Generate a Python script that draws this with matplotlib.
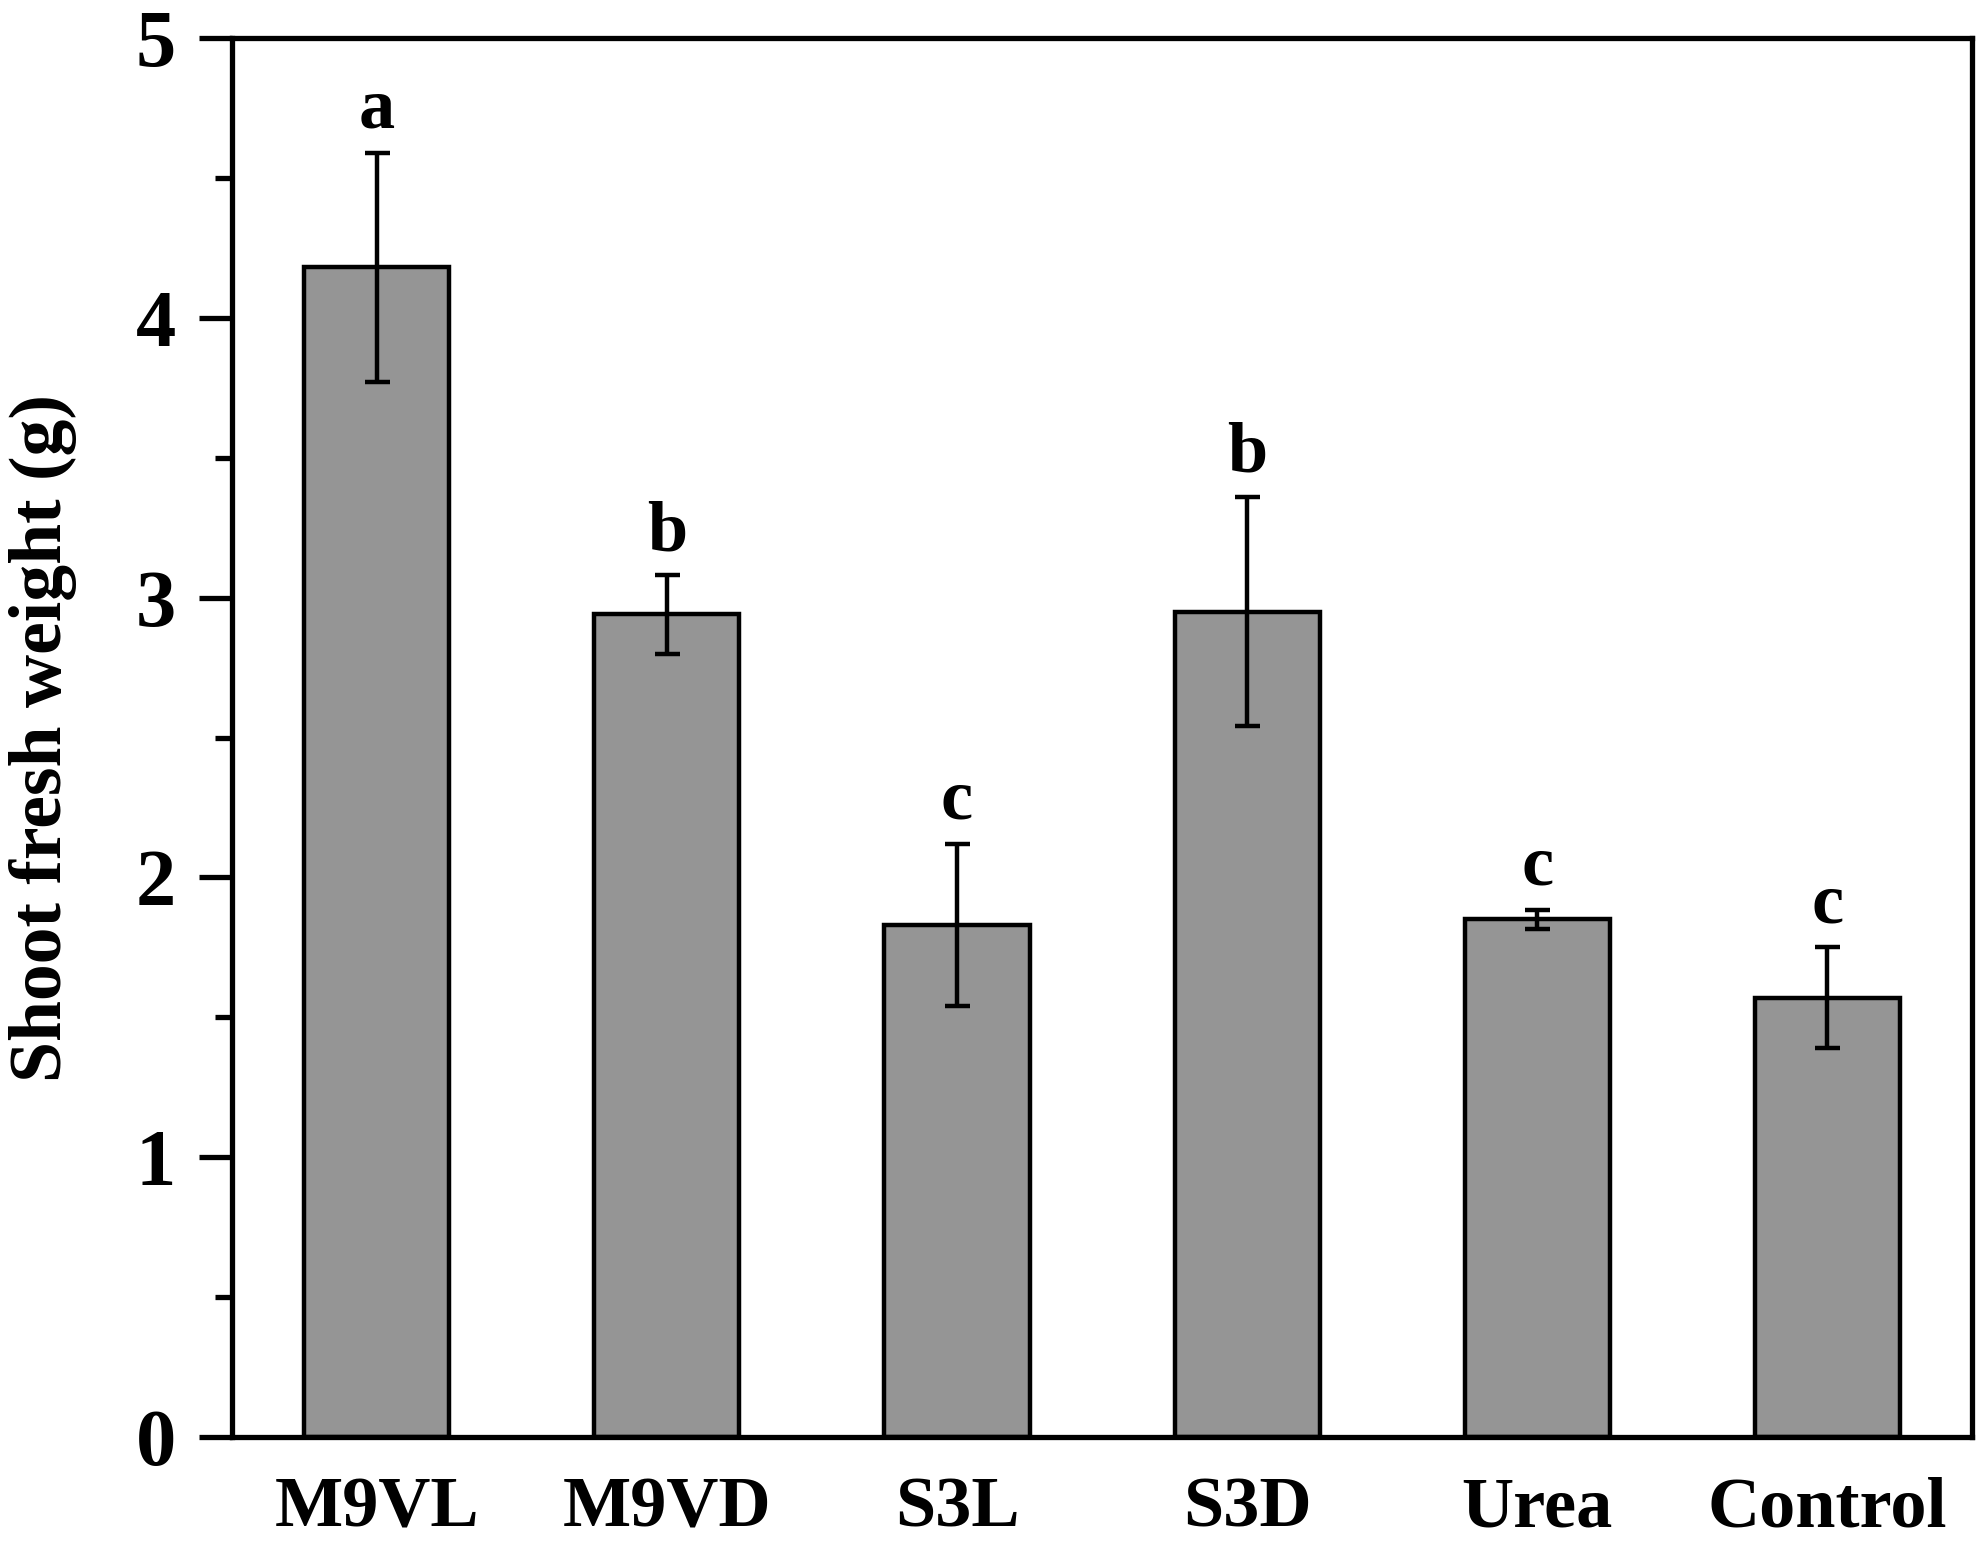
import matplotlib
matplotlib.use("Agg")
import matplotlib.pyplot as plt
from matplotlib.ticker import MultipleLocator

categories = ["M9VL", "M9VD", "S3L", "S3D", "Urea", "Control"]
means = [4.18, 2.94, 1.83, 2.95, 1.85, 1.57]
errors = [0.41, 0.14, 0.29, 0.41, 0.035, 0.18]
letters = ["a", "b", "c", "b", "c", "c"]

plt.rcParams['font.family'] = ['Liberation Serif', 'DejaVu Serif']
plt.rcParams['font.weight'] = 'bold'

fig = plt.figure(figsize=(19.85, 15.42), dpi=100)
ax = fig.add_axes([0.1167, 0.068, 0.877, 0.9074])

x = list(range(len(categories)))
ax.bar(x, means, width=0.5, color='#959595', edgecolor='black', linewidth=3.2, zorder=2)
ax.errorbar(x, means, yerr=errors, fmt='none', ecolor='black', elinewidth=3.2,
            capsize=9, capthick=3.2, zorder=3)
for xi, m, e, l in zip(x, means, errors, letters):
    ax.text(xi, m + e + 0.09, l, ha='center', va='baseline', fontsize=52,
            fontweight='bold')

ax.set_xlim(-0.5, 5.5)
ax.set_ylim(0, 5)
ax.set_xticks(x)
ax.set_xticklabels(categories)
ax.yaxis.set_major_locator(MultipleLocator(1))
ax.yaxis.set_minor_locator(MultipleLocator(0.5))
ax.tick_params(axis='y', which='major', direction='out', length=24, width=3.8,
               labelsize=58, pad=16)
ax.tick_params(axis='y', which='minor', direction='out', length=12, width=3.8)
ax.tick_params(axis='x', which='major', length=0, labelsize=52, pad=28)
for lab in ax.get_xticklabels() + ax.get_yticklabels():
    lab.set_fontweight('bold')
for sp in ax.spines.values():
    sp.set_linewidth(3.8)
ax.set_ylabel("Shoot fresh weight (g)", fontsize=53, fontweight='bold')
ax.yaxis.set_label_coords(-0.089, 0.5)

fig.savefig("out.png", dpi=100)
